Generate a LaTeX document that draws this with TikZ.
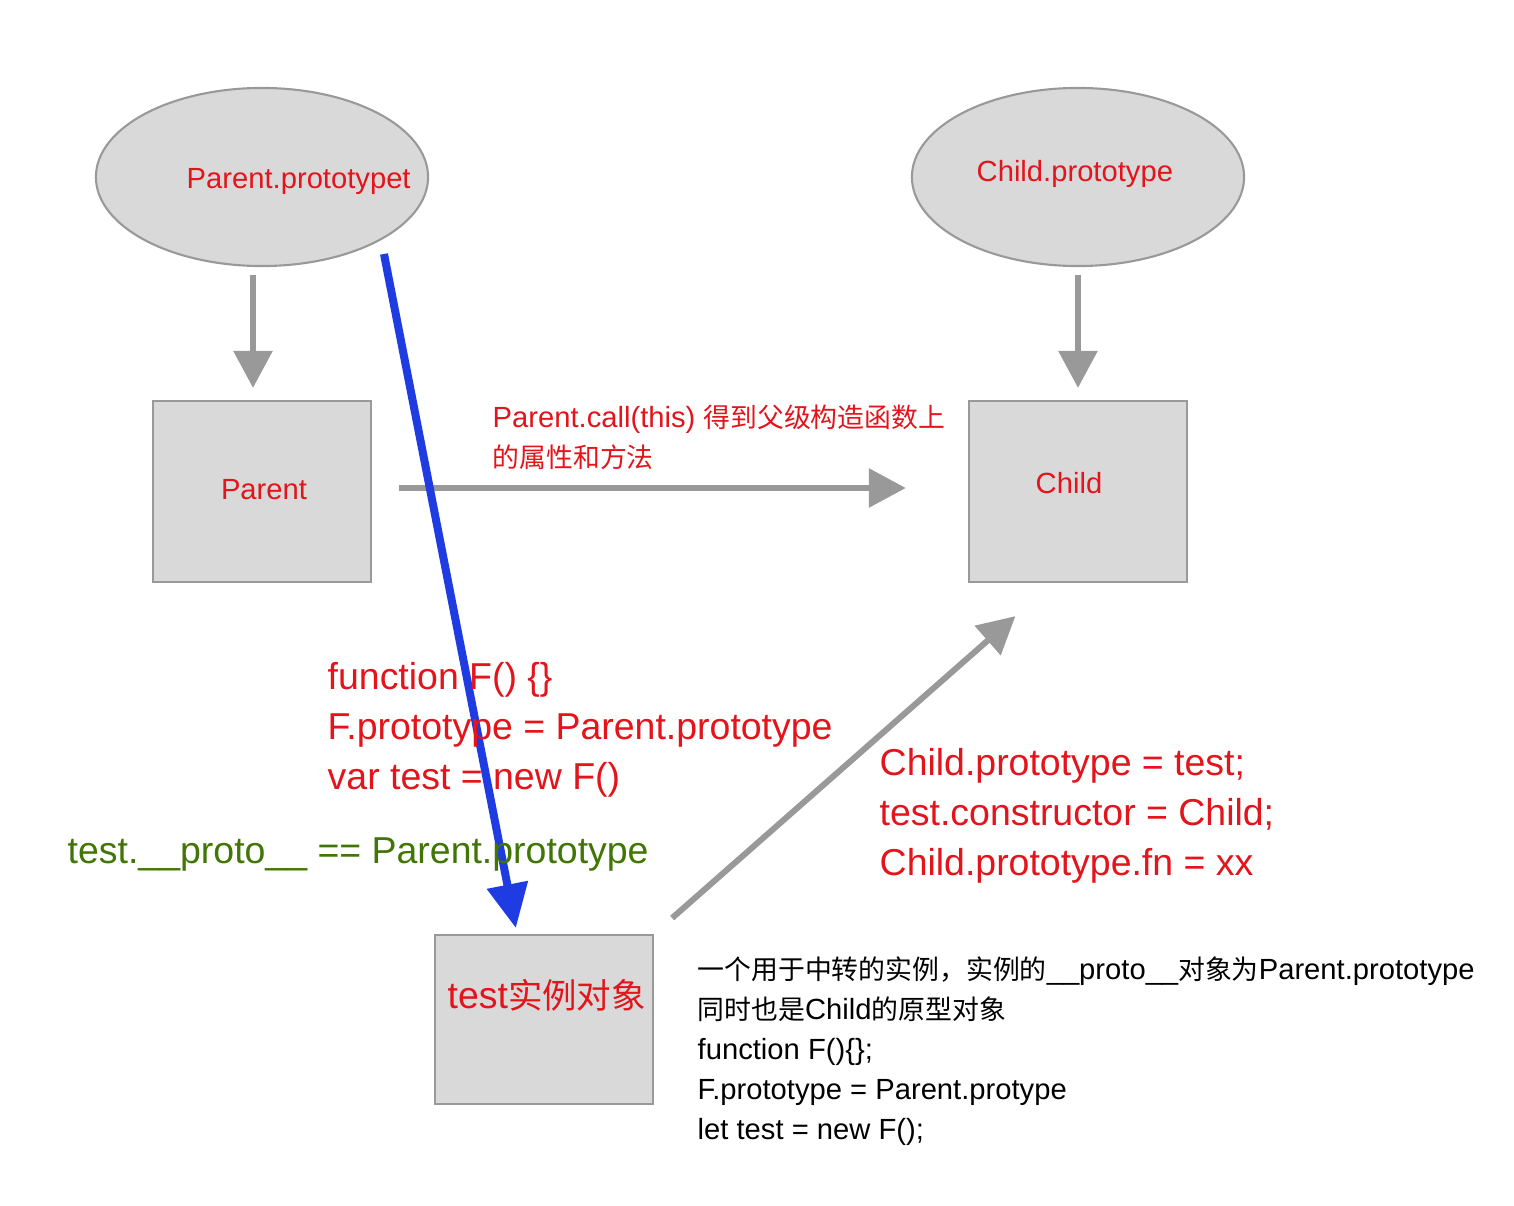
\documentclass[tikz,border=0pt]{standalone}
\usepackage{fontspec}
\setmainfont{Liberation Sans}
\newfontfamily\cjk[Scale=0.92]{Noto Sans CJK SC}
\usetikzlibrary{arrows.meta,shapes.geometric}
\definecolor{boxgray}{HTML}{D9D9D9}
\definecolor{linegray}{HTML}{999999}
\definecolor{txtred}{HTML}{E3141B}
\definecolor{txtgreen}{HTML}{417505}
\definecolor{arrblue}{HTML}{1F3CE3}
\newcommand{\zh}[1]{{\cjk #1}}
\tikzset{%
	protobody/.style={ellipse,draw=linegray,fill=boxgray,line width=0.6pt,minimum width=3.32cm,minimum height=1.78cm,inner sep=0pt},
	classbody/.style={rectangle,draw=linegray,fill=boxgray,line width=0.6pt,minimum width=2.18cm,minimum height=1.81cm,inner sep=0pt},
	smalltxt/.style={anchor=base west,inner sep=0pt,font=\fontsize{8.3}{10}\selectfont},
	bigtxt/.style={anchor=base west,inner sep=0pt,font=\fontsize{10.65}{13}\selectfont},
	grayarrow/.style={-{Triangle[length=0.37cm,width=0.38cm]},linegray,line width=0.06cm},
	bluearrow/.style={-{Triangle[length=0.44cm,width=0.4cm]},arrblue,line width=0.08cm},
}

\begin{document}
\begin{tikzpicture}[x=0.01cm,y=-0.01cm]
			\useasboundingbox (0,0) rectangle (1514,1206);
			% prototypes and constructors
			\node[protobody] (pproto) at (262,177) {};
			\node[protobody] (cproto) at (1078,177) {};
			\node[classbody] (parent) at (262,491.5) {};
			\node[classbody] (child) at (1078,491.5) {};
			\node[classbody,minimum height=1.69cm] (test) at (544,1019.5) {};
			\node[smalltxt,txtred] (ppname) at (186,188) {Parent.prototypet};
			\node[smalltxt,txtred] (cpname) at (976,181) {Child.prototype};
			\node[smalltxt,anchor=base,txtred] (pname) at (264,499) {Parent};
			\node[smalltxt,anchor=base,txtred] (cname) at (1069,493) {Child};
			\node[bigtxt,txtred] (tname) at (447,1008) {test\zh{实例对象}};
			% arrows
			\draw[grayarrow,shorten <=0.08cm,shorten >=0.12cm] ([xshift=-0.09cm]pproto.south) -- ([xshift=-0.09cm]parent.north);
			\draw[grayarrow,shorten <=0.08cm,shorten >=0.12cm] (cproto.south) -- (child.north);
			\draw[grayarrow,shorten <=0.27cm,shorten >=0.62cm] ([yshift=0.035cm]parent.east) -- ([yshift=0.035cm]child.west);
			\draw[grayarrow,shorten <=0.24cm,shorten >=0.5cm] (test.north east) -- ([xshift=-0.25cm]child.south);
			\coordinate (bluefrom) at (384,254);
			\draw[bluearrow,shorten >=0.06cm] (bluefrom) -- ([xshift=-0.27cm]test.north);
			% texts
			\node[smalltxt,txtred] (calltxt1) at (492,427) {Parent.call(this) \zh{得到父级构造函数上}};
			\node[smalltxt,txtred] (calltxt2) at (492,467) {\zh{的属性和方法}};
			\foreach \ln [count=\i] in {{function F() \{\}},{F.prototype = Parent.prototype},{var test = new F()}}
				\node[bigtxt,txtred] (fcode\i) at (327,639+50*\i) {\ln};
			\node[bigtxt,txtgreen] (protoeq) at (67,863) {test.\_\_proto\_\_ == Parent.prototype};
			\foreach \ln [count=\i] in {{Child.prototype = test;},{test.constructor = Child;},{Child.prototype.fn = xx}}
				\node[bigtxt,txtred] (ccode\i) at (879,725+50*\i) {\ln};
			\foreach \ln [count=\i] in {{\zh{一个用于中转的实例，实例的}\_\_proto\_\_\zh{对象为}Parent.prototype},{\zh{同时也是}Child\zh{的原型对象}},{function F()\{\};},{F.prototype = Parent.protype},{let test = new F();}}
				\node[smalltxt,black] (note\i) at (697,939+40*\i) {\ln};
		\end{tikzpicture}
\end{document}
